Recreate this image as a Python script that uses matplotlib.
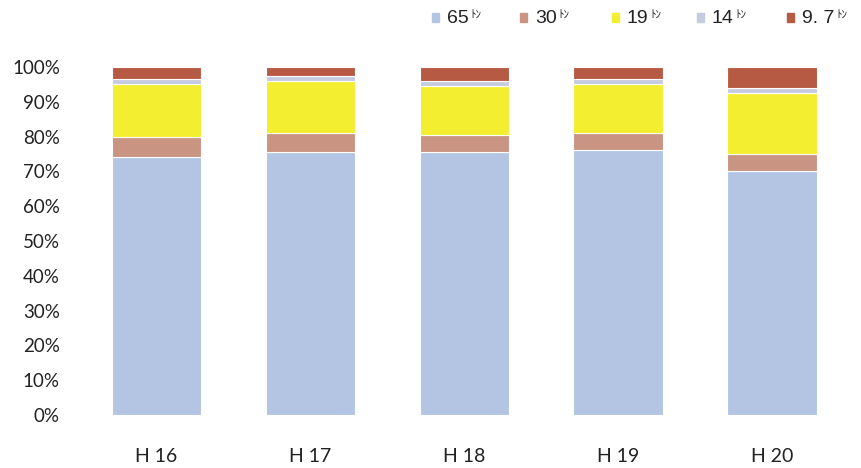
import numpy as np
import matplotlib
matplotlib.use("Agg")
from matplotlib import pyplot as plt
from matplotlib.patches import Rectangle

plt.rcParams["font.family"] = ["Lato", "Noto Sans CJK JP", "DejaVu Sans"]

years = ["H 16", "H 17", "H 18", "H 19", "H 20"]
series = ["65", "30", "19", "14", "9. 7"]

# share of each truck class per year (%)
t65 = [74.0, 75.5, 75.5, 76.0, 70.0]
t30 = [6.0, 5.5, 5.0, 5.0, 5.0]
t19 = [15.0, 15.0, 14.0, 14.0, 17.5]
t14 = [1.5, 1.5, 1.5, 1.5, 1.5]
t9_7 = [3.5, 2.5, 4.0, 3.5, 6.0]

colors = ["#b3c5e3", "#c99482", "#f4ee30", "#c6cbdf", "#b65a44"]

W, H = 862, 468
fig = plt.figure(figsize=(W / 100, H / 100), dpi=100)
ax = fig.add_axes([0.092, 0.113, 0.893, 0.744])

x = np.arange(len(years))
bottom = np.zeros(len(years))
for vals, c in zip([t65, t30, t19, t14, t9_7], colors):
    ax.bar(x, vals, width=0.58, bottom=bottom, color=c,
           edgecolor="white", linewidth=0.8)
    bottom += np.array(vals)

ax.set_xlim(-0.5, len(years) - 0.5)
ax.set_ylim(0, 100)
ax.set_yticks(np.arange(0, 101, 10))
ax.set_yticklabels([f"{v}%" for v in range(0, 101, 10)], fontsize=13.5,
                   color="#222222")
ax.set_xticks(x)
ax.set_xticklabels(years, fontsize=14, color="#222222")
ax.tick_params(axis="both", length=0)
ax.tick_params(axis="x", pad=24)
ax.tick_params(axis="y", pad=14)
for s in ax.spines.values():
    s.set_visible(False)

# legend across the top right (pixel positions of the swatches)
leg_px = [432, 520, 612, 697, 787]
for px, name, c in zip(leg_px, series, colors):
    lx = px / W
    fig.patches.append(Rectangle((lx, 0.952), 7 / W, 9 / H,
                                 transform=fig.transFigure, color=c))
    t = fig.text(lx + 15 / W, 0.96, name, fontsize=14, va="center",
                 ha="left", color="#222222", family=["Liberation Sans"])
    fig.canvas.draw()
    bb = t.get_window_extent()
    fig.text(bb.x1 / W + 0.002, 0.968, "ﾄﾝ", fontsize=8,
             va="center", ha="left", color="#222222",
             family=["Noto Sans CJK JP"])

fig.savefig("out.png", dpi=100)
